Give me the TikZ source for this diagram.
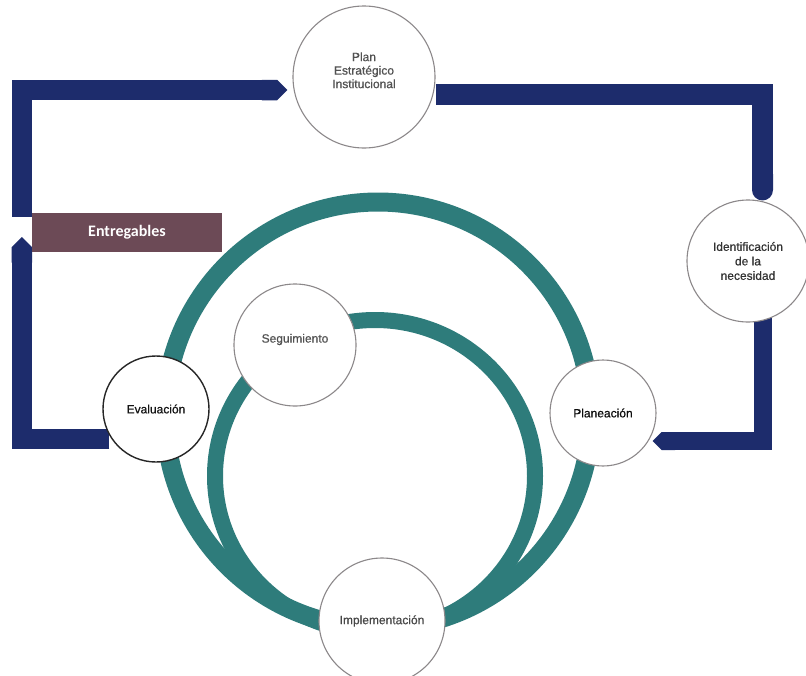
\documentclass[tikz,border=0pt]{standalone}
\usepackage{fontspec}
\setmainfont{Liberation Sans}
\newfontfamily\stagefont[FakeBold=0.6]{Liberation Sans}
\newfontfamily\boxfont{Carlito}
\usetikzlibrary{arrows.meta}
\definecolor{navy}{RGB}{29,44,108}
\definecolor{tealring}{RGB}{46,124,123}
\definecolor{mauve}{RGB}{108,74,86}
\definecolor{rimgray}{RGB}{140,136,138}
\pgfdeclarelayer{bg}
\pgfsetlayers{bg,main}
\begin{document}
\begin{tikzpicture}[x=1pt,y=-1pt,
  stage/.style={circle, draw=rimgray, fill=white, line width=1.1pt, inner sep=0pt,
    align=center, font=\stagefont\fontsize{12}{13.5}\selectfont, text=black!68},
  darkstage/.style={stage, draw=black!85, line width=1.4pt, text=black!92},
  navybar/.style={draw=navy},
  ring/.style={draw=tealring},
  tagbox/.style={rectangle, fill=mauve, minimum width=190pt, minimum height=39pt,
    inner sep=0pt, text=white, font=\boxfont\bfseries\fontsize{16}{18}\selectfont}]
\useasboundingbox (0,0) rectangle (806,675);
\begin{pgfonlayer}{bg}
\fill[white] (0,0) rectangle (806,675);
\end{pgfonlayer}

% teal rings
\draw[ring, line width=19pt] (378,415) circle[radius=213pt];
\draw[ring, line width=16pt] (375,476) ellipse[x radius=160pt, y radius=156pt];

% stages
\node[stage, minimum size=142pt] (plan) at (364,77) {Plan\\Estratégico\\Institucional\\\mbox{}};
\node[stage, minimum size=122pt, text=black!80, font=\stagefont\fontsize{12}{14.5}\selectfont] (ident) at (748,261) {Identificación\\de la\\necesidad};
\node[stage, minimum size=122pt] (seg) at (295,345) {Seguimiento\\\mbox{}};
\node[darkstage, minimum size=106pt] (eval) at (156,409) {Evaluación};
\node[stage, minimum size=106pt, text=black!95] (plane) at (603,413) {Planeación};
\node[stage, minimum size=126pt, text=black!72] (impl) at (382,621) {Implementación};
\node[tagbox] (entreg) at (127,232.5) {Entregables};

% navy connectors
\begin{pgfonlayer}{bg}
\draw[navybar, line width=20.5pt, -{Triangle Cap}]
  ([xshift=-10pt,yshift=-4pt]entreg.north west) |- ([xshift=-5pt,yshift=-13pt]plan.west);
\draw[navybar, line width=21pt, -{Round Cap}]
  ([yshift=-17.5pt]plan.east) -| ([xshift=14.5pt,yshift=-1pt]ident.north);
\draw[navybar, line width=18pt, -{Triangle Cap}]
  ([xshift=14.5pt,yshift=12pt]ident.south) |- ([xshift=-4pt,yshift=-28pt]plane.east);
\draw[navybar, line width=20.5pt, -{Triangle Cap}]
  ([xshift=7pt,yshift=-30pt]eval.west) -| ([xshift=-10pt,yshift=-4.5pt]entreg.west);
\end{pgfonlayer}
\end{tikzpicture}
\end{document}
